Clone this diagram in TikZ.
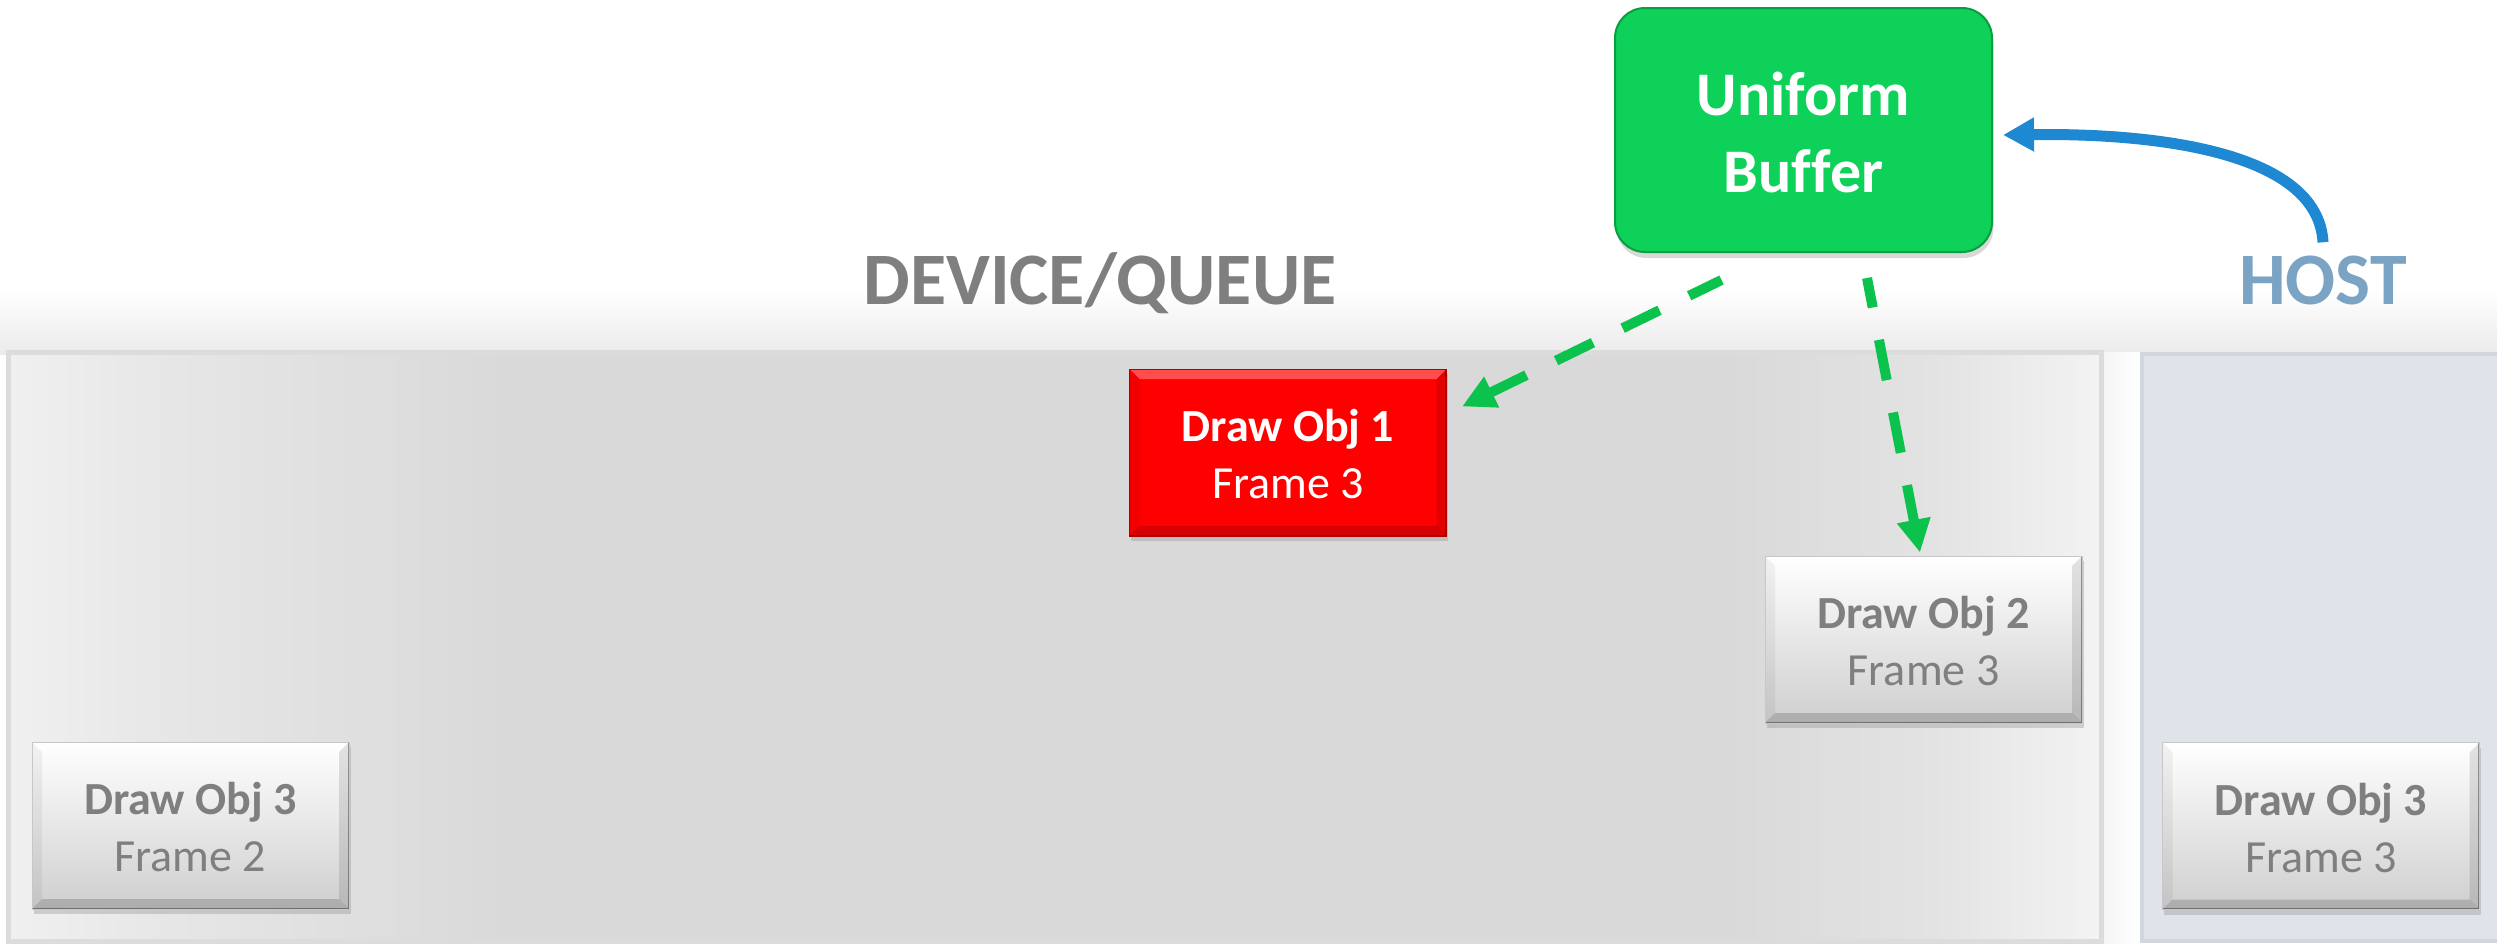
\documentclass[tikz,border=0pt]{standalone}
\usepackage{fontspec}
\setmainfont{Carlito}[Ligatures=NoCommon]
\usetikzlibrary{arrows.meta,shadows}
\definecolor{txtgray}{HTML}{7F7F7F}
\definecolor{hostblue}{HTML}{7BA3C4}
\definecolor{arrowblue}{HTML}{1E88D3}
\definecolor{dashgreen}{HTML}{0BC24D}
\definecolor{bufgreen}{HTML}{0DD158}
\definecolor{bufedge}{HTML}{0A9E43}
\definecolor{hostfill}{HTML}{DFE4EB}
\definecolor{hostedge}{HTML}{D2D7DD}
\definecolor{devedge}{HTML}{DCDCDC}
\definecolor{devA}{HTML}{F0F0F0}
\definecolor{devB}{HTML}{E6E6E6}
\definecolor{devC}{HTML}{D9D9D9}
\definecolor{devD}{HTML}{E3E3E3}
\definecolor{devE}{HTML}{F3F3F3}
\definecolor{redfill}{HTML}{FF0000}
\definecolor{rededge}{HTML}{B00000}
\pgfdeclarehorizontalshading{devshade}{100bp}{color(0bp)=(devA); color(25bp)=(devA); color(29bp)=(devB); color(37bp)=(devC); color(66bp)=(devC); color(71bp)=(devD); color(75bp)=(devE); color(100bp)=(devE)}
\tikzset{
  bevel/.style={path picture={
    \path (path picture bounding box.south west) coordinate (bsw)
          (path picture bounding box.south east) coordinate (bse)
          (path picture bounding box.north west) coordinate (bnw)
          (path picture bounding box.north east) coordinate (bne);
    \fill[white,opacity=0.3] (bnw) -- (bne) -- ([shift={(-10pt,-10pt)}]bne) -- ([shift={(10pt,-10pt)}]bnw) -- cycle;
    \fill[black,opacity=0.05] (bnw) -- (bsw) -- ([shift={(10pt,10pt)}]bsw) -- ([shift={(10pt,-10pt)}]bnw) -- cycle;
    \fill[black,opacity=0.11] (bne) -- (bse) -- ([shift={(-10pt,10pt)}]bse) -- ([shift={(-10pt,-10pt)}]bne) -- cycle;
    \fill[black,opacity=0.16] (bsw) -- (bse) -- ([shift={(-10pt,10pt)}]bse) -- ([shift={(10pt,10pt)}]bsw) -- cycle;
    \draw[black,opacity=0.35,line width=3pt] (bsw) -- (bse) -- (bne);
  }},
  boxbase/.style={rectangle, minimum width=317pt, minimum height=167pt, inner sep=0pt,
    line width=1pt, drop shadow={shadow xshift=1.5pt, shadow yshift=-5pt, opacity=0.3}, bevel},
  objbox/.style={boxbase, top color=white, bottom color=black!19, draw=black!22},
  redbox/.style={boxbase, fill=redfill, draw=rededge},
  bufbox/.style={rectangle, rounded corners=30pt, minimum width=377pt, minimum height=244pt,
    inner sep=0pt, fill=bufgreen, draw=bufedge, line width=2pt,
    drop shadow={shadow xshift=1.5pt, shadow yshift=-6pt, opacity=0.3}},
  objtitle/.style={font=\bfseries\fontsize{46}{50}\selectfont, text=txtgray, anchor=base, inner sep=0pt},
  objsub/.style={font=\fontsize{46}{50}\selectfont, text=txtgray, anchor=base, inner sep=0pt},
  buftext/.style={font=\bfseries\fontsize{62}{66}\selectfont, text=white, anchor=base, inner sep=0pt},
  headtext/.style={font=\bfseries\fontsize{74}{80}\selectfont, anchor=base, inner sep=0pt},
  garrow/.style={draw=dashgreen, line width=10pt, -{Triangle[length=33pt,width=32pt]}},
  barrow/.style={draw=arrowblue, line width=11pt, -{Triangle[length=31pt,width=32pt]}},
}
\begin{document}
\begin{tikzpicture}[x=1pt,y=-1pt]
\useasboundingbox (0,0) rectangle (2497,943);
\fill[white] (0,0) rectangle (2497,943);
% soft shadow above the panels
\fill[top color=white, bottom color=black!8] (0,290) rectangle (2497,354);
% gap between panels
\fill[left color=black!4, right color=white] (2101,352) rectangle (2142,943);
% device / queue panel
\shade[shading=devshade, draw=devedge, line width=5pt] (8,352) rectangle (2101,941);
% host panel
\draw[fill=hostfill, draw=hostedge, line width=4pt] (2142,354) rectangle (2515,941);

% headings
\node[headtext, text=txtgray] (dev) at (1100,304) {DEVICE/QUEUE};
\node[headtext, text=hostblue] (host) at (2323,304) {HOST};

% uniform buffer
\node[bufbox] (ub) at (1803.5,130) {};
\node[buftext] (ubt) at (1803.5,115) {Uniform};
\node[buftext] (ubb) at (1803.5,192) {Buffer};

% draw objects
\node[redbox] (d1) at (1288,452.5) {};
\node[objtitle, text=white] (d1t) at (1288,441) {Draw Obj 1};
\node[objsub, text=white] (d1f) at (1288,498) {Frame 3};

\node[objbox] (d2) at (1923.5,639.5) {};
\node[objtitle] (d2t) at (1923.5,628) {Draw Obj 2};
\node[objsub] (d2f) at (1923.5,685) {Frame 3};

\node[objbox] (d3a) at (190.5,825.5) {};
\node[objtitle] (d3at) at (190.5,814) {Draw Obj 3};
\node[objsub] (d3af) at (190.5,871) {Frame 2};

\node[objbox] (d3b) at (2321,826) {};
\node[objtitle] (d3bt) at (2321,815) {Draw Obj 3};
\node[objsub] (d3bf) at (2321,872) {Frame 3};

% connectors
\draw[garrow, dash pattern=on 41pt off 33pt, dash phase=5pt]
  ([shift={(-82pt,-27pt)}]ub.south) -- ([shift={(15pt,46pt)}]d1.east);
\draw[garrow, dash pattern=on 41pt off 33pt, dash phase=11pt]
  ([shift={(63.5pt,-25pt)}]ub.south) -- ([shift={(-3.5pt,3pt)}]d2.north);
\draw[barrow] ([yshift=13pt]host.north) .. controls (2318,150) and (2150,133) .. ([shift={(10pt,-5pt)}]ub.east);
\end{tikzpicture}
\end{document}
